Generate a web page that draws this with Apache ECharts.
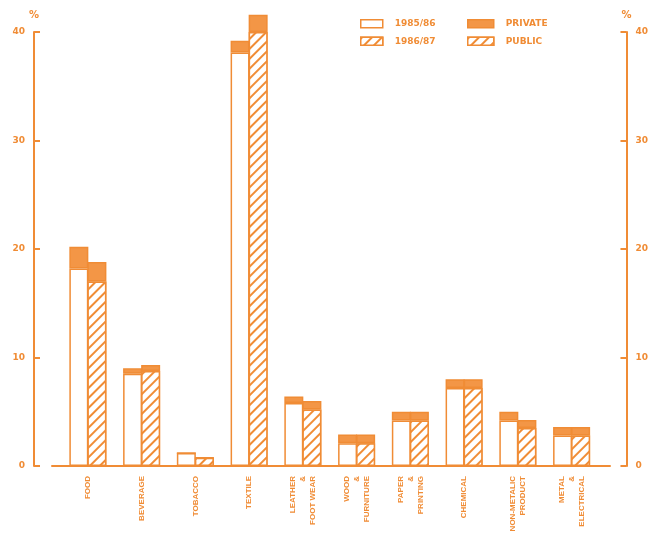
<!DOCTYPE html>
<html><head><meta charset="utf-8">
<script src="https://cdn.jsdelivr.net/npm/echarts@6/dist/echarts.min.js"></script>
<style>html,body{margin:0;padding:0;background:#fff}#c{width:651px;height:557px}</style>
</head><body><div id="c"></div>
<script>
const categories = ['FOOD','BEVERAGE','TOBACCO','TEXTILE','LEATHER\n&\nFOOT WEAR','WOOD\n&\nFURNITURE','PAPER\n&\nPRINTING','CHEMICAL','NON-METALIC\nPRODUCT','METAL\n&\nELECTRICAL'];
const public8586  = [18.2, 8.5, 1.2, 38.1, 5.8, 2.1, 4.2, 7.2, 4.2, 2.8];
const private8586 = [2.0, 0.5, 0, 1.1, 0.6, 0.8, 0.8, 0.8, 0.8, 0.8];
const public8687  = [17.0, 8.75, 0.75, 40.0, 5.2, 2.1, 4.2, 7.2, 3.5, 2.8];
const private8687 = [1.8, 0.55, 0, 1.6, 0.8, 0.8, 0.8, 0.8, 0.75, 0.8];
const yMin = 0, yMax = 40, yStep = 10;

const OR = '#f08c35';
const FILL = '#f39646';
const hatch = {symbol:'rect', symbolSize:1, dashArrayX:[1,0], dashArrayY:[2,5], rotation: -Math.PI/4, color: OR, backgroundColor:'#fff'};
const font = {color: OR, fontWeight:'bold', fontSize:9, fontFamily:'DejaVu Sans'};
const legendFont = Object.assign({}, font, {padding:[0,0,0,7]});

const chart = echarts.init(document.getElementById('c'));
const yAxisCommon = {
  type:'value', min:yMin, max:yMax, interval:yStep, gridIndex:0,
  axisLine:{show:true, lineStyle:{color:OR, width:2}},
  axisTick:{show:true, inside:true, length:6, lineStyle:{color:OR, width:2}},
  splitLine:{show:false},
  axisLabel:Object.assign({margin:9}, font),
  name:'%', nameLocation:'end', nameGap:12, nameTextStyle:Object.assign({}, font, {fontSize:10})
};
const barBase = {type:'bar', xAxisIndex:0, yAxisIndex:0, barWidth:19, barGap:'-5%', clip:false};
chart.setOption({
  animation:false,
  backgroundColor:'#fff',
  grid:[
    {left:61, right:49, top:32, bottom:91},
    {left:52, right:41, top:32, bottom:91}
  ],
  xAxis:[
    {type:'category', gridIndex:0, data:categories,
     axisLine:{show:false}, axisTick:{show:false},
     axisLabel:{rotate:90, margin:10, fontSize:8, lineHeight:10, interval:0, color:OR, fontWeight:'bold', fontFamily:'Liberation Sans'}},
    {type:'value', gridIndex:1, min:0, max:1,
     axisLine:{show:true, lineStyle:{color:OR, width:2}}, axisTick:{show:false}, axisLabel:{show:false}, splitLine:{show:false}}
  ],
  yAxis:[
    Object.assign({}, yAxisCommon, {position:'left', offset:27}),
    Object.assign({}, yAxisCommon, {position:'right', offset:28}),
    {type:'value', gridIndex:1, show:false}
  ],
  legend:[
    {left:360, top:19, padding:0, orient:'vertical', itemWidth:22, itemHeight:8, itemGap:8, icon:'rect', selectedMode:false,
     textStyle:legendFont,
     data:[{name:'1985/86', itemStyle:{color:'#fff', borderColor:OR, borderWidth:1.5}},
           {name:'1986/87', itemStyle:{color:'#fff', decal:hatch, borderColor:OR, borderWidth:1.5}}]},
    {left:467, top:19, padding:0, orient:'vertical', itemWidth:26, itemHeight:8, itemGap:8, icon:'rect', selectedMode:false,
     textStyle:legendFont,
     data:[{name:'PRIVATE', itemStyle:{color:FILL, borderColor:OR, borderWidth:1.5}},
           {name:'PUBLIC', itemStyle:{color:'#fff', decal:hatch, borderColor:OR, borderWidth:1.5}}]}
  ],
  series:[
    Object.assign({}, barBase, {name:'1985/86', stack:'a', data:public8586,
      itemStyle:{color:'#fff', borderColor:OR, borderWidth:1.5}}),
    Object.assign({}, barBase, {name:'PRIVATE', stack:'a', data:private8586,
      itemStyle:{color:FILL, borderColor:OR, borderWidth:1.5}}),
    Object.assign({}, barBase, {name:'PUBLIC', stack:'a', data:[],
      itemStyle:{color:'#fff', decal:hatch, borderColor:OR, borderWidth:1.5}}),
    Object.assign({}, barBase, {name:'1986/87', stack:'b', data:public8687,
      itemStyle:{color:'#fff', decal:hatch, borderColor:OR, borderWidth:1.5}}),
    Object.assign({}, barBase, {name:'PRIVATE', stack:'b', data:private8687,
      itemStyle:{color:FILL, borderColor:OR, borderWidth:1.5}})
  ]
});
</script></body></html>
